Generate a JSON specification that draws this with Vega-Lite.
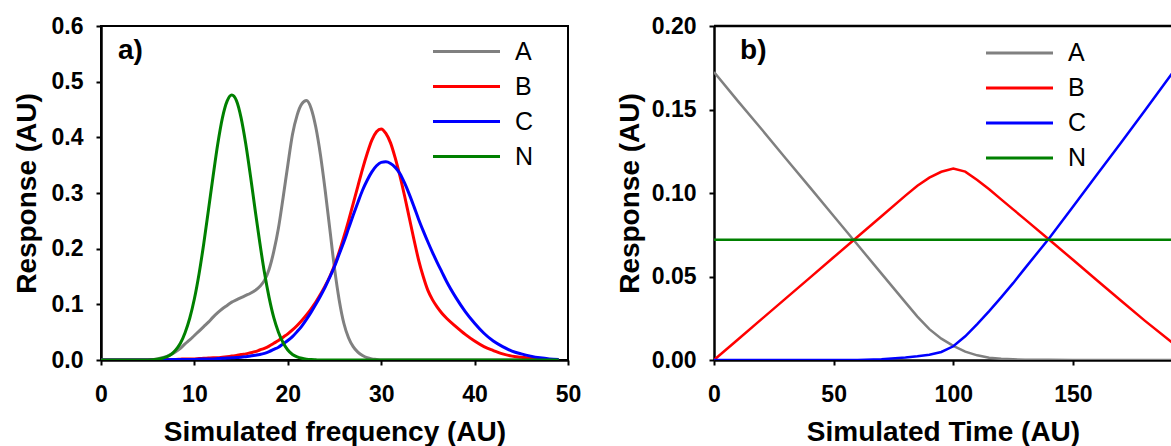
{
  "$schema": "https://vega.github.io/schema/vega-lite/v6.json",
  "background": "white",
  "padding": {"left": 12, "top": 14, "right": 0, "bottom": 0},
  "autosize": {"type": "pad"},
  "spacing": 146,
  "bounds": "flush",
  "config": {
    "font": "Liberation Sans",
    "axis": {"domainColor": "black", "domainWidth": 2.5, "tickColor": "black", "tickWidth": 2, "tickSize": 5, "labelFont": "Liberation Sans", "labelFontWeight": "bold", "labelFontSize": 23, "labelColor": "black", "labelFlush": false, "labelOverlap": false, "titleFont": "Liberation Sans", "titleFontWeight": "bold", "titleFontSize": 28, "titleColor": "black", "grid": false},
    "axisX": {"labelPadding": 18, "titlePadding": 12},
    "axisY": {"labelPadding": 13},
    "legend": {"padding": 0, "labelFont": "Liberation Sans", "labelFontSize": 25, "labelColor": "black", "labelFontWeight": "normal", "symbolType": "M-6.7,0H6.7", "symbolSize": 100, "symbolStrokeWidth": 3, "symbolOffset": 21, "labelOffset": 36, "rowPadding": 9}
  },
  "datasets": {
    "freq": [
      {"x":0,"A":0,"B":0,"C":0,"N":0},{"x":2,"A":0,"B":0,"C":0,"N":0},{"x":4,"A":0,"B":0,"C":0,"N":0},{"x":5,"A":0,"B":0,"C":0,"N":0.0002},
      {"x":6,"A":0.002,"B":0.0005,"C":0,"N":0.0013},{"x":6.5,"A":0.004,"B":0.0007,"C":0.0002,"N":0.0027},{"x":7,"A":0.006,"B":0.001,"C":0.0005,"N":0.0054},{"x":7.5,"A":0.010,"B":0.001,"C":0.0007,"N":0.010},
      {"x":8,"A":0.015,"B":0.001,"C":0.001,"N":0.018},{"x":8.5,"A":0.021,"B":0.0015,"C":0.001,"N":0.030},{"x":9,"A":0.029,"B":0.002,"C":0.001,"N":0.049},{"x":9.5,"A":0.036,"B":0.002,"C":0.001,"N":0.075},
      {"x":10,"A":0.044,"B":0.002,"C":0.001,"N":0.110},{"x":10.5,"A":0.052,"B":0.0025,"C":0.0015,"N":0.155},{"x":11,"A":0.060,"B":0.003,"C":0.002,"N":0.209},{"x":11.5,"A":0.068,"B":0.0035,"C":0.002,"N":0.269},
      {"x":12,"A":0.077,"B":0.004,"C":0.002,"N":0.330},{"x":12.5,"A":0.085,"B":0.004,"C":0.0025,"N":0.388},{"x":13,"A":0.092,"B":0.005,"C":0.003,"N":0.435},{"x":13.5,"A":0.098,"B":0.006,"C":0.0035,"N":0.465},
      {"x":14,"A":0.104,"B":0.007,"C":0.004,"N":0.476},{"x":14.5,"A":0.108,"B":0.008,"C":0.0045,"N":0.466},{"x":15,"A":0.112,"B":0.010,"C":0.005,"N":0.435},{"x":15.5,"A":0.116,"B":0.011,"C":0.006,"N":0.388},
      {"x":16,"A":0.120,"B":0.013,"C":0.007,"N":0.331},{"x":16.5,"A":0.125,"B":0.015,"C":0.0085,"N":0.270},{"x":17,"A":0.132,"B":0.018,"C":0.010,"N":0.211},{"x":17.5,"A":0.143,"B":0.021,"C":0.012,"N":0.157},
      {"x":18,"A":0.163,"B":0.025,"C":0.015,"N":0.112},{"x":18.5,"A":0.195,"B":0.030,"C":0.019,"N":0.076},{"x":19,"A":0.237,"B":0.035,"C":0.023,"N":0.050},{"x":19.5,"A":0.292,"B":0.041,"C":0.029,"N":0.031},
      {"x":20,"A":0.350,"B":0.047,"C":0.035,"N":0.018},{"x":20.5,"A":0.405,"B":0.054,"C":0.042,"N":0.010},{"x":21,"A":0.440,"B":0.062,"C":0.051,"N":0.0056},{"x":21.5,"A":0.460,"B":0.071,"C":0.061,"N":0.003},
      {"x":22,"A":0.466,"B":0.081,"C":0.073,"N":0.0015},{"x":22.5,"A":0.452,"B":0.092,"C":0.086,"N":0.0007},{"x":23,"A":0.418,"B":0.104,"C":0.100,"N":0.0003},{"x":23.5,"A":0.368,"B":0.118,"C":0.115,"N":0},
      {"x":24,"A":0.305,"B":0.133,"C":0.131,"N":0},{"x":24.5,"A":0.235,"B":0.150,"C":0.149,"N":0},{"x":25,"A":0.165,"B":0.170,"C":0.168,"N":0},{"x":25.5,"A":0.108,"B":0.194,"C":0.190,"N":0},
      {"x":26,"A":0.066,"B":0.221,"C":0.212,"N":0},{"x":26.5,"A":0.040,"B":0.250,"C":0.236,"N":0},{"x":27,"A":0.024,"B":0.281,"C":0.260,"N":0},{"x":27.5,"A":0.014,"B":0.312,"C":0.283,"N":0},
      {"x":28,"A":0.008,"B":0.343,"C":0.305,"N":0},{"x":28.5,"A":0.004,"B":0.371,"C":0.323,"N":0},{"x":29,"A":0.002,"B":0.395,"C":0.338,"N":0},{"x":29.5,"A":0.001,"B":0.410,"C":0.349,"N":0},
      {"x":30,"A":0,"B":0.415,"C":0.355,"N":0},{"x":30.5,"A":0,"B":0.407,"C":0.356,"N":0},{"x":31,"A":0,"B":0.390,"C":0.353,"N":0},{"x":31.5,"A":0,"B":0.363,"C":0.346,"N":0},
      {"x":32,"A":0,"B":0.331,"C":0.335,"N":0},{"x":32.5,"A":0,"B":0.295,"C":0.318,"N":0},{"x":33,"A":0,"B":0.256,"C":0.298,"N":0},{"x":33.5,"A":0,"B":0.217,"C":0.276,"N":0},
      {"x":34,"A":0,"B":0.180,"C":0.253,"N":0},{"x":34.5,"A":0,"B":0.150,"C":0.232,"N":0},{"x":35,"A":0,"B":0.125,"C":0.212,"N":0},{"x":35.5,"A":0,"B":0.108,"C":0.193,"N":0},
      {"x":36,"A":0,"B":0.095,"C":0.175,"N":0},{"x":36.5,"A":0,"B":0.084,"C":0.158,"N":0},{"x":37,"A":0,"B":0.075,"C":0.141,"N":0},{"x":38,"A":0,"B":0.060,"C":0.112,"N":0},
      {"x":39,"A":0,"B":0.046,"C":0.087,"N":0},{"x":40,"A":0,"B":0.034,"C":0.066,"N":0},{"x":41,"A":0,"B":0.024,"C":0.048,"N":0},{"x":42,"A":0,"B":0.017,"C":0.034,"N":0},
      {"x":43,"A":0,"B":0.011,"C":0.024,"N":0},{"x":44,"A":0,"B":0.007,"C":0.016,"N":0},{"x":45,"A":0,"B":0.005,"C":0.011,"N":0},{"x":46,"A":0,"B":0.003,"C":0.007,"N":0},
      {"x":47,"A":0,"B":0.002,"C":0.004,"N":0},{"x":48,"A":0,"B":0.001,"C":0.002,"N":0},{"x":49,"A":0,"B":0,"C":0.001,"N":0}
    ],
    "time": [
      {"t":0,"A":0.1725,"B":0,"C":0,"N":0.072},{"t":10,"A":0.155,"B":0.0123,"C":0,"N":0.072},{"t":20,"A":0.138,"B":0.0246,"C":0,"N":0.072},
      {"t":30,"A":0.1207,"B":0.0369,"C":0,"N":0.072},{"t":40,"A":0.1035,"B":0.0492,"C":0,"N":0.072},{"t":50,"A":0.0862,"B":0.0615,"C":0,"N":0.072},
      {"t":60,"A":0.069,"B":0.0738,"C":0,"N":0.072},{"t":70,"A":0.0517,"B":0.0861,"C":0.0005,"N":0.072},{"t":80,"A":0.0345,"B":0.0984,"C":0.0015,"N":0.072},
      {"t":85,"A":0.026,"B":0.1043,"C":0.0022,"N":0.072},{"t":90,"A":0.0185,"B":0.1092,"C":0.0032,"N":0.072},{"t":95,"A":0.0128,"B":0.1127,"C":0.0048,"N":0.072},
      {"t":100,"A":0.0085,"B":0.1147,"C":0.0082,"N":0.072},{"t":105,"A":0.005,"B":0.1128,"C":0.0142,"N":0.072},{"t":110,"A":0.0028,"B":0.1078,"C":0.0215,"N":0.072},
      {"t":115,"A":0.0014,"B":0.1022,"C":0.0293,"N":0.072},{"t":120,"A":0.0007,"B":0.0962,"C":0.0375,"N":0.072},{"t":125,"A":0.0004,"B":0.0902,"C":0.046,"N":0.072},
      {"t":130,"A":0.0002,"B":0.0842,"C":0.055,"N":0.072},{"t":140,"A":0.0001,"B":0.0722,"C":0.0728,"N":0.072},{"t":150,"A":0,"B":0.06,"C":0.0918,"N":0.072},
      {"t":160,"A":0,"B":0.0478,"C":0.1109,"N":0.072},{"t":170,"A":0,"B":0.0356,"C":0.13,"N":0.072},{"t":180,"A":0,"B":0.0236,"C":0.1492,"N":0.072},
      {"t":191.4,"A":0,"B":0.0105,"C":0.1715,"N":0.072}
    ]
  },
  "resolve": {"scale": {"color": "independent"}, "legend": {"color": "independent"}},
  "hconcat": [
    {
      "width": 467,
      "height": 334,
      "view": {"stroke": "black", "strokeWidth": 2},
      "layer": [
        {
          "data": {"name": "freq"},
          "transform": [{"fold": ["A", "B", "C", "N"], "as": ["s", "v"]}],
          "mark": {"type": "line", "strokeWidth": 3, "interpolate": "monotone", "clip": true},
          "encoding": {
            "x": {"field": "x", "type": "quantitative", "scale": {"domain": [0, 50], "nice": false}, "axis": {"values": [0, 10, 20, 30, 40, 50], "title": "Simulated frequency (AU)"}},
            "y": {"field": "v", "type": "quantitative", "scale": {"domain": [0, 0.6], "nice": false}, "axis": {"values": [0, 0.1, 0.2, 0.3, 0.4, 0.5, 0.6], "format": ".1f", "title": "Response (AU)", "titlePadding": 10}},
            "color": {"field": "s", "type": "nominal", "scale": {"domain": ["A", "B", "C", "N"], "range": ["#808080", "#ff0000", "#0000ff", "#008000"]}, "legend": {"orient": "none", "legendX": 332, "legendY": 13, "title": null}}
          }
        },
        {
          "data": {"values": [{}]},
          "mark": {"type": "text", "text": "a)", "align": "left", "baseline": "alphabetic", "font": "Liberation Sans", "fontWeight": "bold", "fontSize": 28, "color": "black"},
          "encoding": {"x": {"datum": 1.82}, "y": {"datum": 0.541}}
        }
      ]
    },
    {
      "width": 458,
      "height": 334,
      "view": {"stroke": null},
      "layer": [
        {
          "data": {"values": [{}]},
          "mark": {"type": "rule", "color": "black", "strokeWidth": 2.5},
          "encoding": {"y": {"datum": 0.2}}
        },
        {
          "data": {"name": "time"},
          "transform": [{"fold": ["A", "B", "C", "N"], "as": ["s", "v"]}],
          "mark": {"type": "line", "interpolate": "linear", "clip": true},
          "encoding": {
            "x": {"field": "t", "type": "quantitative", "scale": {"domain": [0, 191.4], "nice": false}, "axis": {"values": [0, 50, 100, 150], "title": "Simulated Time (AU)"}},
            "y": {"field": "v", "type": "quantitative", "scale": {"domain": [0, 0.2], "nice": false}, "axis": {"values": [0, 0.05, 0.1, 0.15, 0.2], "format": ".2f", "title": "Response (AU)", "titlePadding": 7}},
            "color": {"field": "s", "type": "nominal", "scale": {"domain": ["A", "B", "C", "N"], "range": ["#808080", "#ff0000", "#0000ff", "#008000"]}, "legend": {"orient": "none", "legendX": 272, "legendY": 14.5, "title": null}},
            "strokeWidth": {"field": "s", "type": "nominal", "scale": {"domain": ["A", "B", "C", "N"], "range": [2.5, 2.5, 2.5, 1.7]}, "legend": null}
          }
        },
        {
          "data": {"values": [{}]},
          "mark": {"type": "text", "text": "b)", "align": "left", "baseline": "alphabetic", "font": "Liberation Sans", "fontWeight": "bold", "fontSize": 28, "color": "black"},
          "encoding": {"x": {"datum": 10.9}, "y": {"datum": 0.18}}
        }
      ]
    }
  ]
}
